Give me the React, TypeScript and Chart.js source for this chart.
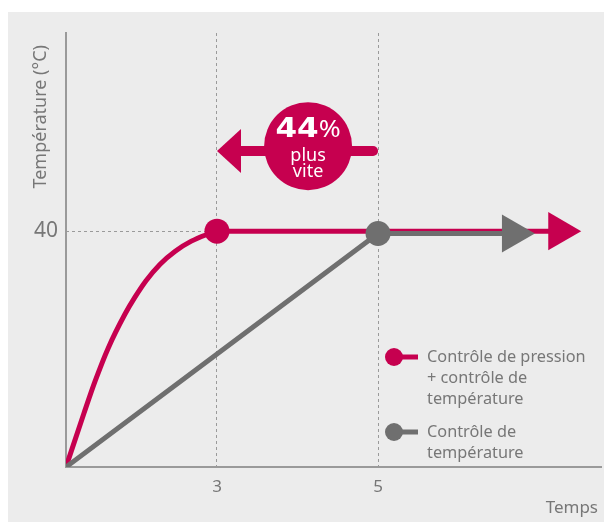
import React, { useEffect, useRef } from "react";
import { Chart, registerables } from "chart.js";

Chart.register(...registerables);

const RED = "#c6004f";
const GREY = "#6f6f6f";
const AXIS = "#9a9a9a";
const TEXT = "#777777";
const FONT = "'Noto Sans', sans-serif";

// x ticks (position on the time axis, label shown)
const xTickValues = [3, 6.2];
const xTickLabels = ["3", "5"];
const yTickValues = [40];
const yTickLabels = ["40"];

// Pressure + temperature control (red curve)
const redX = [0, 0.36, 0.58, 0.84, 1.17, 1.37, 1.59, 1.87, 2.17, 2.49, 2.79, 3, 9.8];
const redY = [0, 9.2, 14.6, 20.2, 25.9, 28.8, 31.6, 34.4, 36.6, 38.3, 39.4, 40, 40];
// Temperature control only (grey line)
const greyX = [0, 6.2, 8.88];
const greyY = [0, 39.6, 39.6];

const yTitle = "Température (°C)";
const xTitle = "Temps";
const legendRed = ["Contrôle de pression", "+ contrôle de", "température"];
const legendGrey = ["Contrôle de", "température"];
const badgeBig = "44";
const badgePct = "%";
const badgeLines = ["plus", "vite"];
// annotation anchors (data units)
const arrowFrom = 6.2;
const arrowTo = 3;
const arrowY = 53.6;
const badgeX = 4.81;
const badgeY = 54.4;

const overlay = {
  id: "overlay",
  beforeDatasetsDraw(chart: any) {
    const { ctx, chartArea, scales } = chart;
    const { x, y } = scales;
    ctx.save();
    ctx.strokeStyle = AXIS;
    ctx.lineWidth = 1;
    ctx.setLineDash([3, 3]);
    const py = Math.round(y.getPixelForValue(40)) + 0.5;
    ctx.beginPath();
    ctx.moveTo(chartArea.left, py);
    ctx.lineTo(x.getPixelForValue(3), py);
    ctx.stroke();
    ctx.restore();
  },
  afterDatasetsDraw(chart: any) {
    const { ctx, scales } = chart;
    const { x, y } = scales;
    ctx.save();
    // arrow
    const x0 = x.getPixelForValue(arrowTo);
    const x1 = x.getPixelForValue(arrowFrom);
    const ay = y.getPixelForValue(arrowY);
    ctx.fillStyle = RED;
    ctx.strokeStyle = RED;
    ctx.lineWidth = 10;
    ctx.lineCap = "round";
    ctx.beginPath();
    ctx.moveTo(x0 + 20, ay);
    ctx.lineTo(x1 - 5, ay);
    ctx.stroke();
    ctx.beginPath();
    ctx.moveTo(x0, ay);
    ctx.lineTo(x0 + 24, ay - 22);
    ctx.lineTo(x0 + 24, ay + 22);
    ctx.closePath();
    ctx.fill();
    // badge
    const cx = x.getPixelForValue(badgeX);
    const cy = y.getPixelForValue(badgeY);
    ctx.beginPath();
    ctx.arc(cx, cy, 44, 0, Math.PI * 2);
    ctx.fill();
    ctx.fillStyle = "#ffffff";
    ctx.textBaseline = "alphabetic";
    const sx = 1.15;
    const bigFont = "bold 27px 'DejaVu Sans', sans-serif";
    const pctFont = `23px ${FONT}`;
    ctx.font = bigFont;
    const wBig = ctx.measureText(badgeBig).width * sx;
    ctx.font = pctFont;
    const wPct = ctx.measureText(badgePct).width * sx;
    const startX = cx - (wBig + wPct) / 2;
    ctx.textAlign = "left";
    ctx.save();
    ctx.translate(startX, cy - 9);
    ctx.scale(sx, 1);
    ctx.font = bigFont;
    ctx.fillText(badgeBig, 0, 0);
    ctx.font = pctFont;
    ctx.fillText(badgePct, wBig / sx, 0);
    ctx.restore();
    ctx.textAlign = "center";
    ctx.textBaseline = "middle";
    ctx.font = `18px ${FONT}`;
    ctx.fillText(badgeLines[0], cx, cy + 10);
    ctx.fillText(badgeLines[1], cx, cy + 26);
    ctx.restore();
  },
  afterDraw(chart: any) {
    const { ctx } = chart;
    ctx.save();
    ctx.fillStyle = TEXT;
    // y title
    ctx.font = `18px ${FONT}`;
    ctx.translate(33, 33);
    ctx.rotate(-Math.PI / 2);
    ctx.textAlign = "right";
    ctx.textBaseline = "middle";
    ctx.fillText(yTitle, 0, 0);
    ctx.setTransform(1, 0, 0, 1, 0, 0);
    // x title
    ctx.font = `17px ${FONT}`;
    ctx.textAlign = "right";
    ctx.textBaseline = "middle";
    ctx.fillText(xTitle, 590, 496);
    // legend
    const drawKey = (color: string, cyk: number, lines: string[]) => {
      ctx.fillStyle = color;
      ctx.strokeStyle = color;
      ctx.lineWidth = 5;
      ctx.lineCap = "butt";
      ctx.beginPath();
      ctx.moveTo(386, cyk);
      ctx.lineTo(410, cyk);
      ctx.stroke();
      ctx.beginPath();
      ctx.arc(386, cyk, 9, 0, Math.PI * 2);
      ctx.fill();
      ctx.fillStyle = TEXT;
      ctx.font = `16.3px ${FONT}`;
      ctx.textAlign = "left";
      ctx.textBaseline = "middle";
      lines.forEach((t, i) => ctx.fillText(t, 419, cyk + i * 21));
    };
    drawKey(RED, 345, legendRed);
    drawKey(GREY, 420, legendGrey);
    ctx.restore();
  },
};

export default function App() {
  const ref = useRef<HTMLCanvasElement>(null);
  useEffect(() => {
    if (!ref.current) return;
    const chart = new Chart(ref.current, {
      type: "line",
      data: {
        datasets: [
          {
            data: greyX.map((v, i) => ({ x: v, y: greyY[i] })),
            borderColor: GREY,
            backgroundColor: GREY,
            borderWidth: 5,
            tension: 0,
            pointRadius: [0, 12.5, 22],
            pointStyle: ["circle", "circle", "triangle"] as any,
            rotation: [0, 0, 90],
            pointBorderWidth: 0,
            pointBackgroundColor: GREY,
          },
          {
            data: redX.map((v, i) => ({ x: v, y: redY[i] })),
            borderColor: RED,
            backgroundColor: RED,
            borderWidth: 5,
            cubicInterpolationMode: "monotone",
            pointRadius: redX.map((_, i) => (i === redX.length - 2 ? 12.5 : i === redX.length - 1 ? 22 : 0)),
            pointStyle: redX.map((_, i) => (i === redX.length - 1 ? "triangle" : "circle")) as any,
            rotation: redX.map((_, i) => (i === redX.length - 1 ? 90 : 0)),
            pointBorderWidth: 0,
            pointBackgroundColor: RED,
          },
        ],
      },
      options: {
        animation: false,
        responsive: false,
        devicePixelRatio: 1,
        layout: { autoPadding: false, padding: { top: 21, right: 3, left: 0, bottom: 0 } },
        plugins: { legend: { display: false }, tooltip: { enabled: false } },
        scales: {
          x: {
            type: "linear",
            min: 0,
            max: 10.63,
            afterBuildTicks: (s: any) => {
              s.ticks = xTickValues.map((v) => ({ value: v }));
            },
            afterFit: (s: any) => {
              s.height = 55;
            },
            grid: { color: AXIS, lineWidth: 1, drawTicks: false },
            border: { display: true, color: AXIS, width: 2, dash: [3, 3] },
            ticks: {
              autoSkip: false,
              maxRotation: 0,
              padding: 10,
              color: TEXT,
              font: { family: FONT, size: 17 },
              callback: (_v: any, i: number) => xTickLabels[i],
            },
          },
          y: {
            type: "linear",
            min: 0,
            max: 73.6,
            afterBuildTicks: (s: any) => {
              s.ticks = yTickValues.map((v) => ({ value: v }));
            },
            afterFit: (s: any) => {
              s.width = 58;
            },
            grid: { display: false, drawTicks: false },
            border: { display: true, color: AXIS, width: 2 },
            ticks: {
              padding: 8,
              color: TEXT,
              font: { family: FONT, size: 21 },
              callback: (_v: any, i: number) => yTickLabels[i],
            },
          },
        },
      },
      plugins: [overlay],
    });
    return () => chart.destroy();
  }, []);
  return (
    <div
      style={{
        position: "fixed",
        left: 8,
        top: 12,
        width: 596,
        height: 510,
        background: "#ececec",
      }}
    >
      <canvas ref={ref} width={596} height={510} style={{ display: "block" }} />
    </div>
  );
}
